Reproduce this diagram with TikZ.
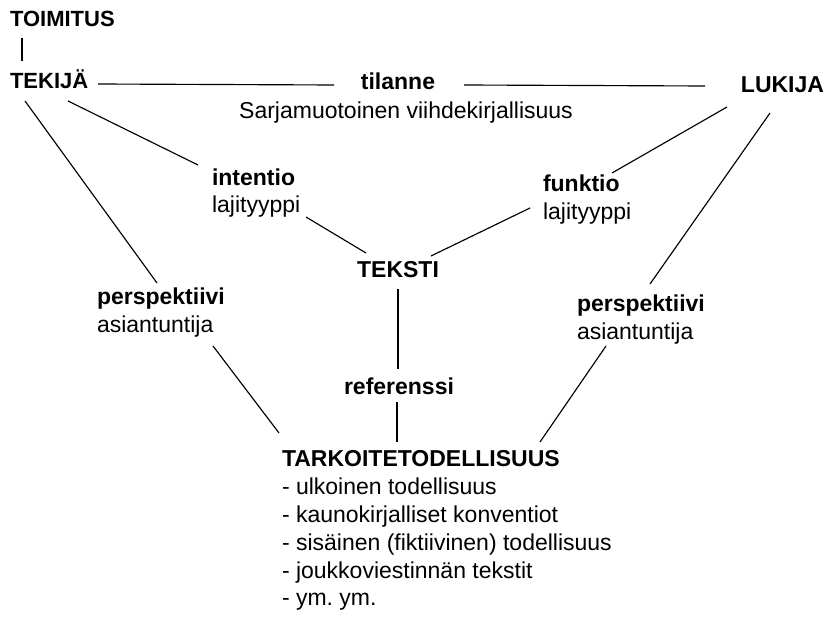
\documentclass[tikz,border=0pt]{standalone}
\usepackage{fontspec}
\setmainfont{Liberation Sans}
\frenchspacing
\begin{document}
\begin{tikzpicture}[x=1pt,y=-1pt,
  txt/.style={inner sep=0pt, outer sep=0pt, font=\fontsize{23}{27}\selectfont},
  bld/.style={txt, font=\fontsize{23}{27}\selectfont\bfseries},
  topb/.style={txt, font=\fontsize{22}{26}\selectfont\bfseries},
  conn/.style={line width=1.15pt, black}]
\useasboundingbox (0,0) rectangle (826,617);
% nodes
\node[topb, anchor=base west] (toimitus) at (10,27) {TOIMITUS};
\node[topb, anchor=base west] (tekija) at (10,89) {TEKIJÄ};
\node[bld, anchor=base] (tilanne) at (398,90) {tilanne};
\node[bld, anchor=base east] (lukija) at (824,93) {LUKIJA};
\node[txt, anchor=base] (sarja) at (406,119) {Sarjamuotoinen viihdekirjallisuus};
\node[bld, anchor=base west] (intentio) at (212,186) {intentio};
\node[txt, anchor=base west] (lajL) at (212,213) {lajityyppi};
\node[bld, anchor=base west] (funktio) at (543,192) {funktio};
\node[txt, anchor=base west] (lajR) at (543,220) {lajityyppi};
\node[bld, anchor=base] (teksti) at (398,278) {TEKSTI};
\node[bld, anchor=base west] (persL) at (97,304) {perspektiivi};
\node[txt, anchor=base west] (asiL) at (97,332) {asiantuntija};
\node[bld, anchor=base west] (persR) at (577,311) {perspektiivi};
\node[txt, anchor=base west] (asiR) at (577,339) {asiantuntija};
\node[bld, anchor=base] (referenssi) at (399,394) {referenssi};
\node[bld, anchor=base west] (tark) at (282,466) {TARKOITETODELLISUUS};
\node[txt, anchor=base west] (l1) at (282,494) {- ulkoinen todellisuus};
\node[txt, anchor=base west] (l2) at (282,522) {- kaunokirjalliset konventiot};
\node[txt, anchor=base west] (l3) at (282,550) {- sisäinen (fiktiivinen) todellisuus};
\node[txt, anchor=base west] (l4) at (282,578) {- joukkoviestinnän tekstit};
\node[txt, anchor=base west] (l5) at (282,605) {- ym. ym.};
% connector end points
\coordinate (toimB) at (22,38);   \coordinate (tekT) at (22,61);
\coordinate (tekR) at (98,84);    \coordinate (tilL) at (334,85);
\coordinate (tilR) at (464,85);   \coordinate (lukL) at (705,86);
\coordinate (tekI) at (68,101);   \coordinate (intT) at (198,165);
\coordinate (tekP) at (25,101);   \coordinate (perLT) at (157,283);
\coordinate (perLB) at (213,346); \coordinate (tarL) at (279,433);
\coordinate (lajLB) at (306,217); \coordinate (tekLT) at (366,253);
\coordinate (lajRB) at (530,208); \coordinate (tekRT) at (431,256);
\coordinate (lukF) at (727,107);  \coordinate (funT) at (612,173);
\coordinate (lukP) at (770,113);  \coordinate (perRT) at (650,284);
\coordinate (perRB) at (606,346); \coordinate (tarR) at (540,442);
\coordinate (tekB) at (398,289);  \coordinate (refT) at (398,369);
\coordinate (refB) at (397,402);  \coordinate (tarT) at (397,442);
% connectors
\draw[conn] (toimB) -- (tekT);
\draw[conn] (tekR) -- (tilL);
\draw[conn] (tilR) -- (lukL);
\draw[conn] (tekI) -- (intT);
\draw[conn] (tekP) -- (perLT);
\draw[conn] (perLB) -- (tarL);
\draw[conn] (lajLB) -- (tekLT);
\draw[conn] (lajRB) -- (tekRT);
\draw[conn] (lukF) -- (funT);
\draw[conn] (lukP) -- (perRT);
\draw[conn] (perRB) -- (tarR);
\draw[conn] (tekB) -- (refT);
\draw[conn] (refB) -- (tarT);
\end{tikzpicture}
\end{document}
